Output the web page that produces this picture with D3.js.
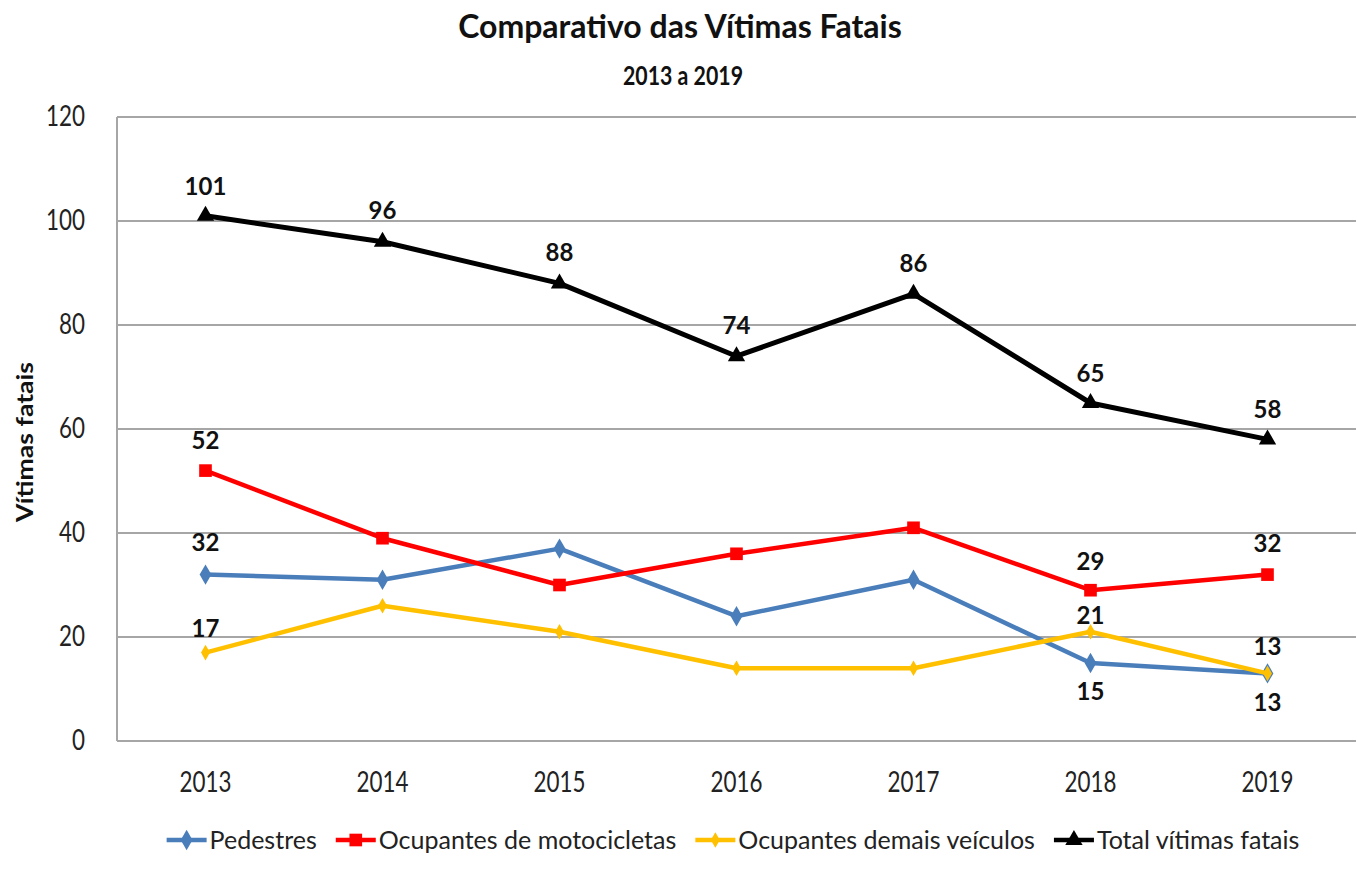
<!DOCTYPE html>
<html>
<head>
<meta charset="utf-8">
<script src="https://cdn.jsdelivr.net/npm/d3@7"></script>
<style>
  body { margin: 0; background: #fff; }
  svg { font-family: Lato, "Open Sans", sans-serif; }
</style>
</head>
<body>
<svg id="chart" width="1357" height="869"></svg>
<script>
const years = ['2013', '2014', '2015', '2016', '2017', '2018', '2019'];
const pedestres = [32, 31, 37, 24, 31, 15, 13];
const motocicletas = [52, 39, 30, 36, 41, 29, 32];
const demais = [17, 26, 21, 14, 14, 21, 13];
const total = [101, 96, 88, 74, 86, 65, 58];
const yTicks = [0, 20, 40, 60, 80, 100, 120];

// labelled points: index -> vertical offset of the label baseline
const series = [
    { name: 'Pedestres', values: pedestres, color: '#4a7ebb', marker: 'diamond', size: 120,
      labels: { 0: -24, 5: 37, 6: 38 } },
    { name: 'Ocupantes de motocicletas', values: motocicletas, color: '#ff0000', marker: 'square', size: 160,
      labels: { 0: -22, 5: -20, 6: -23 } },
    { name: 'Ocupantes demais veículos', values: demais, color: '#ffc000', marker: 'diamond', size: 70,
      labels: { 0: -16, 5: -8, 6: -18 } },
    { name: 'Total vítimas fatais', values: total, color: '#000000', marker: 'triangle', size: 130,
      labels: { 0: -21, 1: -23, 2: -22, 3: -22, 4: -22, 5: -21, 6: -21 } }
];

const svg = d3.select('#chart');
const plotLeft = 117, plotRight = 1356, plotTop = 117, plotBottom = 741;
const squeeze = 0.8;

const x = d3.scaleBand().domain(years).range([plotLeft, plotRight]);
const y = d3.scaleLinear().domain([0, 120]).range([plotBottom, plotTop]);

// Grid
svg.append('g')
    .selectAll('line')
    .data(yTicks)
    .enter().append('line')
    .attr('x1', plotLeft).attr('x2', plotRight)
    .attr('y1', d => y(d)).attr('y2', d => y(d))
    .attr('stroke', '#a6a6a6')
    .attr('stroke-width', 2);

svg.append('line')
    .attr('x1', plotLeft).attr('x2', plotLeft)
    .attr('y1', plotTop).attr('y2', plotBottom)
    .attr('stroke', '#a6a6a6')
    .attr('stroke-width', 2);

// Y ticks
const yAxis = svg.append('g')
    .attr('transform', `translate(${plotLeft},0)`)
    .call(d3.axisLeft(y).tickValues(yTicks).tickSize(0).tickPadding(40));
yAxis.select('.domain').remove();
yAxis.selectAll('text')
    .attr('font-size', 28)
    .attr('font-family', 'Lato, sans-serif')
    .attr('transform', `scale(${squeeze},1)`)
    .attr('fill', '#222');

// X ticks
const xAxis = svg.append('g')
    .attr('transform', `translate(0,${plotBottom})`)
    .call(d3.axisBottom(x).tickSize(0).tickPadding(31));
xAxis.select('.domain').remove();
xAxis.selectAll('text')
    .attr('font-size', 28)
    .attr('font-family', 'Lato, sans-serif')
    .attr('transform', `scale(${squeeze},1)`)
    .attr('fill', '#222');

// Titles
svg.append('text')
    .attr('x', 680).attr('y', 38)
    .attr('text-anchor', 'middle')
    .attr('font-size', 32).attr('font-weight', 'bold')
    .attr('fill', '#111')
    .text('Comparativo das Vítimas Fatais');
svg.append('text')
    .attr('transform', `translate(683,85) scale(0.82,1)`)
    .attr('text-anchor', 'middle')
    .attr('font-size', 26).attr('font-weight', 'bold')
    .attr('fill', '#111')
    .text('2013 a 2019');
svg.append('text')
    .attr('transform', 'translate(33,442) rotate(-90)')
    .attr('text-anchor', 'middle')
    .attr('font-size', 22).attr('font-weight', 'bold')
    .attr('textLength', 160)
    .attr('lengthAdjust', 'spacingAndGlyphs')
    .attr('fill', '#111')
    .text('Vítimas fatais');

const symbolType = { diamond: d3.symbolDiamond, square: d3.symbolSquare, triangle: d3.symbolTriangle };
const line = d3.line()
    .x((d, i) => x(years[i]) + x.bandwidth() / 2)
    .y(d => y(d));

series.forEach(s => {
    const g = svg.append('g');
    g.append('path')
        .datum(s.values)
        .attr('d', line)
        .attr('fill', 'none')
        .attr('stroke', s.color)
        .attr('stroke-width', s.marker === 'triangle' ? 5 : 4.5)
        .attr('stroke-linejoin', 'round');
    g.selectAll('path.mark')
        .data(s.values)
        .enter().append('path')
        .attr('class', 'mark')
        .attr('d', d3.symbol().type(symbolType[s.marker]).size(s.size))
        .attr('transform', (d, i) => `translate(${x(years[i]) + x.bandwidth() / 2},${y(d)})`)
        .attr('fill', s.color);
    g.selectAll('text')
        .data(s.values.map((v, i) => ({ v, i })).filter(d => s.labels[d.i] !== undefined))
        .enter().append('text')
        .attr('x', d => x(years[d.i]) + x.bandwidth() / 2)
        .attr('y', d => y(d.v) + s.labels[d.i])
        .attr('text-anchor', 'middle')
        .attr('font-size', 24)
        .attr('font-weight', 'bold')
        .attr('fill', '#111')
        .text(d => d.v);
});

// Legend
const legend = svg.append('g').attr('transform', 'translate(0,840)');
const items = [];
series.forEach(s => {
    const item = legend.append('g');
    item.append('line')
        .attr('x1', 0).attr('x2', 40)
        .attr('stroke', s.color).attr('stroke-width', 4.5);
    item.append('path')
        .attr('d', d3.symbol().type(symbolType[s.marker]).size(s.size))
        .attr('transform', 'translate(20,0)')
        .attr('fill', s.color);
    const t = item.append('text')
        .attr('x', 43).attr('dy', '0.35em')
        .attr('font-size', 25)
        .attr('fill', '#222')
        .text(s.name);
    const w = 43 + t.node().getComputedTextLength();
    items.push({ item, w });
});
const gap = 19;
const totalW = d3.sum(items, d => d.w) + gap * (items.length - 1);
let cx = 733 - totalW / 2;
items.forEach(d => {
    d.item.attr('transform', `translate(${cx},0)`);
    cx += d.w + gap;
});
</script>
</body>
</html>
